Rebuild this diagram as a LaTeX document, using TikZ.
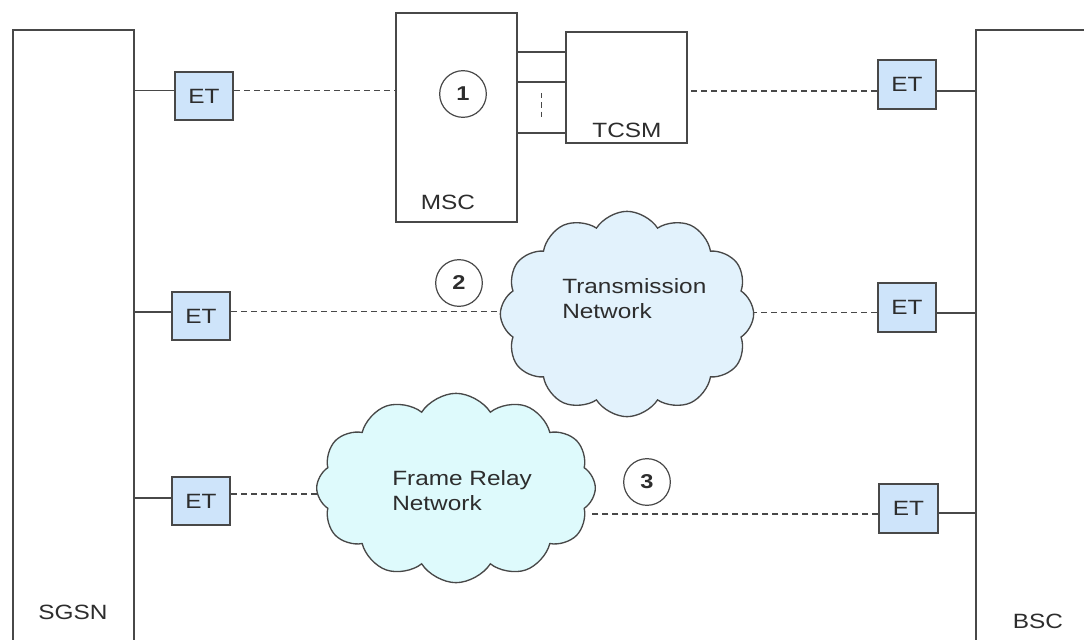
\documentclass[tikz,border=0pt]{standalone}
\usepackage{fontspec}
\setmainfont{Liberation Sans}[FakeStretch=1.18]
\usetikzlibrary{shapes.symbols,calc}

\definecolor{edge}{RGB}{72,72,72}
\definecolor{ink}{RGB}{45,45,45}
\definecolor{etfill}{RGB}{206,228,250}
\definecolor{tnfill}{RGB}{226,242,252}
\definecolor{frfill}{RGB}{222,250,252}

\begin{document}
\begin{tikzpicture}[x=0.75pt,y=-0.75pt,
  every node/.style={text=ink, font=\fontsize{15.5}{19}\selectfont},
  unit/.style={draw=edge, line width=1.3pt, fill=white, inner sep=0pt, rectangle},
  etbox/.style={draw=edge, line width=1.3pt, fill=etfill, inner sep=0pt,
    minimum width=44pt, minimum height=36.5pt},
  marker/.style={circle, draw=edge, line width=0.9pt, fill=white, inner sep=0pt,
    minimum size=35pt, font=\fontsize{15}{18}\selectfont\bfseries},
  netcloud/.style={cloud, cloud puffs=12, cloud puff arc=115, cloud ignores aspect,
    draw=edge, line width=1pt, inner sep=0pt},
  solidlink/.style={draw=edge, line width=1.2pt},
  dashlink/.style={draw=edge, line width=1pt, dash pattern=on 4.5pt off 3pt},
  label/.style={inner sep=0pt}
]
\useasboundingbox (0,0) rectangle (1084,639);
\clip (0,0) rectangle (1084,639);

% end systems at both sides
\node[unit, minimum width=90.75pt, minimum height=502.5pt] (sgsn) at (73.5,365) {};
\node[unit, minimum width=108pt, minimum height=502.5pt] (bsc) at (1048,365) {};
\node[label] (sgsnlbl) at (73,612) {SGSN};
\node[label] (bsclbl) at (1038,621) {BSC};

% switching centre with its transcoder
\node[unit, minimum width=90.75pt, minimum height=156.75pt] (msc) at (456.5,117.5) {};
\node[unit, minimum width=90.75pt, minimum height=83.25pt] (tcsm) at (626.5,87.5) {};
\node[label] (msclbl) at (448,202) {MSC};
\node[label] (tcsmlbl) at (627,130) {TCSM};

% trunks between MSC and TCSM
\draw[solidlink] ($(msc.north east)+(0,40)$) -- ($(msc.north east)+(49,40)$);
\draw[solidlink] ($(msc.north east)+(0,70)$) -- ($(msc.north east)+(49,70)$);
\draw[solidlink] ($(msc.north east)+(0,121)$) -- ($(msc.north east)+(49,121)$);
\coordinate (dtop) at (541.5,93);
\coordinate (dbot) at (541.5,118);
\draw[draw=edge, line width=1pt, dash pattern=on 4pt off 3pt] (dtop) -- (dbot);

% clouds
\node[netcloud, fill=tnfill, minimum width=190pt, minimum height=154pt] (tn) at (627,314) {};
\node[netcloud, fill=frfill, minimum width=209pt, minimum height=142pt] (fr) at (456,488) {};
\node[label, anchor=north west, align=left] (tnlbl) at (562,278) {Transmission\\Network};
\node[label, anchor=north west, align=left] (frlbl) at (392,470) {Frame Relay\\Network};

% exchange terminals
\node[etbox] (etL1) at (204,96) {ET};
\node[etbox] (etR1) at (907,84.5) {ET};
\node[etbox] (etL2) at (201,316) {ET};
\node[etbox] (etR2) at (907,307.5) {ET};
\node[etbox] (etL3) at (201,501) {ET};
\node[etbox] (etR3) at (908.5,508.5) {ET};

% terminal attachments
\draw[solidlink] (etL1.170) -- (etL1.170 -| sgsn.east);
\draw[solidlink] (etL2.172) -- (etL2.172 -| sgsn.east);
\draw[solidlink] (etL3.174) -- (etL3.174 -| sgsn.east);
\draw[solidlink] (etR1.-12) -- (etR1.-12 -| bsc.west);
\draw[solidlink] (etR2.-10) -- (etR2.-10 -| bsc.west);
\draw[solidlink] (etR3.-9) -- (etR3.-9 -| bsc.west);

% transmission paths
\draw[dashlink] (etL1.10) -- (etL1.10 -| msc.west);
\draw[dashlink] (etR1.192) -- (etR1.192 -| tcsm.east);
\draw[dashlink] (etL2.8) -- (etL2.8 -| tn.west);
\draw[dashlink] (etR2.190) -- (etR2.190 -| tn.east);
\draw[dashlink, line width=1.6pt] (etL3.13) -- ($(etL3.13 -| fr.west)+(2,0)$);
\draw[dashlink] (etR3.190) -- ($(etR3.190 -| fr.east)+(-4,0)$);

% path markers
\node[marker] (m1) at (463,94) {1};
\node[marker] (m2) at (459,283) {2};
\node[marker] (m3) at (647,482) {3};
\end{tikzpicture}
\end{document}
